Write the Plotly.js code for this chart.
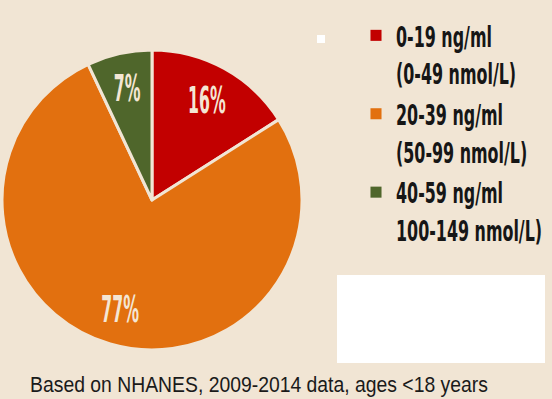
<!DOCTYPE html>
<html>
<head>
<meta charset="utf-8">
<script src="https://cdn.plot.ly/plotly-3.0.1.min.js"></script>
<style>html,body{margin:0;padding:0;background:#f1e5d4;}#chart{width:552px;height:399px;}</style>
</head>
<body>
<div id="chart"></div>
<script>
const categories = ["0-19 ng/ml<br>(0-49 nmol/L)", "20-39 ng/ml<br>(50-99 nmol/L)", "40-59 ng/ml<br>100-149 nmol/L)"];
const shares = [16, 77, 7];
const sliceLabels = ["16%", "77%", "7%"];
const colors = ["#c20000", "#e2700f", "#4f662b"];
const caption = "Based on NHANES, 2009-2014 data, ages <18 years";

const bg = "#f1e5d4";
const condensed = "'DejaVu Sans Condensed', 'DejaVu Sans', sans-serif";

const trace = {
  type: "pie",
  labels: categories,
  values: shares,
  text: sliceLabels,
  textinfo: "text",
  textposition: "inside",
  insidetextorientation: "horizontal",
  sort: false,
  direction: "clockwise",
  rotation: 0,
  marker: {colors: colors, line: {color: bg, width: 3}},
  textfont: {family: condensed, size: 14, color: "#f4e6d4", weight: "bold"},
  domain: {x: [0, 304/552], y: [49/399, 349/399]},
  hoverinfo: "none"
};

const layout = {
  width: 552, height: 399,
  margin: {l: 0, r: 0, t: 0, b: 0, autoexpand: false},
  paper_bgcolor: bg,
  plot_bgcolor: bg,
  showlegend: true,
  legend: {
    x: 356/552, xanchor: "left",
    y: 1 - 10/399, yanchor: "top",
    valign: "top",
    font: {family: condensed, size: 29, color: "#161616", weight: "bold"},
    bgcolor: "rgba(0,0,0,0)",
    tracegroupgap: 0,
    itemclick: false
  },
  shapes: [
    {type: "rect", xref: "paper", yref: "paper", x0: 337/552, x1: 545/552, y0: 1 - 363/399, y1: 1 - 275/399, fillcolor: "#ffffff", line: {width: 0}},
    {type: "rect", xref: "paper", yref: "paper", x0: 317/552, x1: 325/552, y0: 1 - 43/399, y1: 1 - 35/399, fillcolor: "#ffffff", line: {width: 0}}
  ],
  annotations: [
    {text: caption, xref: "paper", yref: "paper", x: 28/552, y: 1 - 384/399, xanchor: "left", yanchor: "middle", showarrow: false,
     font: {family: "'Liberation Sans', Arial, sans-serif", size: 22, color: "#1a1a1a"}}
  ]
};

function squeeze(el, sx, sy, anchor) {
  const bb = el.getBBox();
  const cx = anchor === "left" ? bb.x : bb.x + bb.width / 2;
  const cy = bb.y + bb.height / 2;
  const old = el.getAttribute("transform") || "";
  el.setAttribute("transform", old + " translate(" + cx + "," + cy + ") scale(" + sx + "," + sy + ") translate(" + (-cx) + "," + (-cy) + ")");
}

Plotly.newPlot("chart", [trace], layout, {displayModeBar: false, staticPlot: true}).then(function (gd) {
  const cd = gd.calcdata[0];
  const cx = cd[0].cx, cy = cd[0].cy;
  const svgBox = gd.querySelector(".main-svg").getBoundingClientRect();
  gd.querySelectorAll("g.slice").forEach(function (g, i) {
    const el = g.querySelector(".slicetext");
    if (!el) return;
    squeeze(el, 1.25, 2.6, "center");
    const pt = cd[i];
    const k = 0.76;
    const tx = cx + pt.pxmid[0] * k, ty = cy + pt.pxmid[1] * k;
    const r = el.getBoundingClientRect();
    const curX = r.left + r.width / 2 - svgBox.left, curY = r.top + r.height / 2 - svgBox.top;
    el.setAttribute("transform", "translate(" + (tx - curX) + "," + (ty - curY) + ") " + el.getAttribute("transform"));
  });
  gd.querySelectorAll(".legendpoints path").forEach(function (p) {
    p.style.strokeWidth = "0px";
    const old = p.getAttribute("transform") || "";
    p.setAttribute("transform", old + " scale(0.92)");
  });
  gd.querySelectorAll(".legendtext").forEach(function (el) { squeeze(el, 0.61, 1, "left"); });
  gd.querySelectorAll(".annotation-text").forEach(function (el) { squeeze(el, 0.88, 1, "left"); });
});
</script>
</body>
</html>
